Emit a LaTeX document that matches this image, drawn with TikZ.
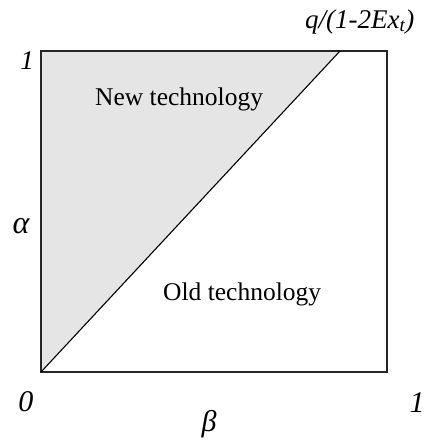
\documentclass[tikz,border=0pt]{standalone}
\usepackage{fontspec}
\setmainfont{Liberation Serif}
\begin{document}
\begin{tikzpicture}[x=1pt,y=-1pt,
  lbl/.style={inner sep=0pt,font=\fontsize{30}{30}\selectfont\itshape},
  region/.style={inner sep=0pt,font=\fontsize{25.5}{25.5}\selectfont, anchor=base west},
  frame/.style={draw=black!85,line width=1.3pt},
  diag/.style={draw=black,line width=1.1pt}]
\useasboundingbox (0,0) rectangle (428,440);
\coordinate (o) at (41,372);
\coordinate (tl) at (41,51);
\coordinate (tr) at (387,51);
\coordinate (br) at (387,372);
\coordinate (q) at (340,51);
\fill[black!10] (o) -- (tl) -- (q) -- cycle;
\draw[frame] (o) rectangle (tr);
\draw[diag] (o) -- (q);
\node[region] (new) at (95,105) {New technology};
\node[region] (old) at (163,300) {Old technology};
\node[lbl,font=\fontsize{27}{27}\selectfont\itshape] (one) at (27,61) {1};
\node[lbl,anchor=base west,font=\fontsize{27}{27}\selectfont\itshape] (qlab) at (305,28) {q/(1-2Ex\textsubscript{t})};
\node[lbl,font=\fontsize{32}{32}\selectfont\itshape] (alpha) at (21,226) {α};
\node[lbl] (zero) at (26,402) {0};
\node[lbl] (oneb) at (417,403) {1};
\node[lbl] (beta) at (209,424) {β};
\end{tikzpicture}
\end{document}
